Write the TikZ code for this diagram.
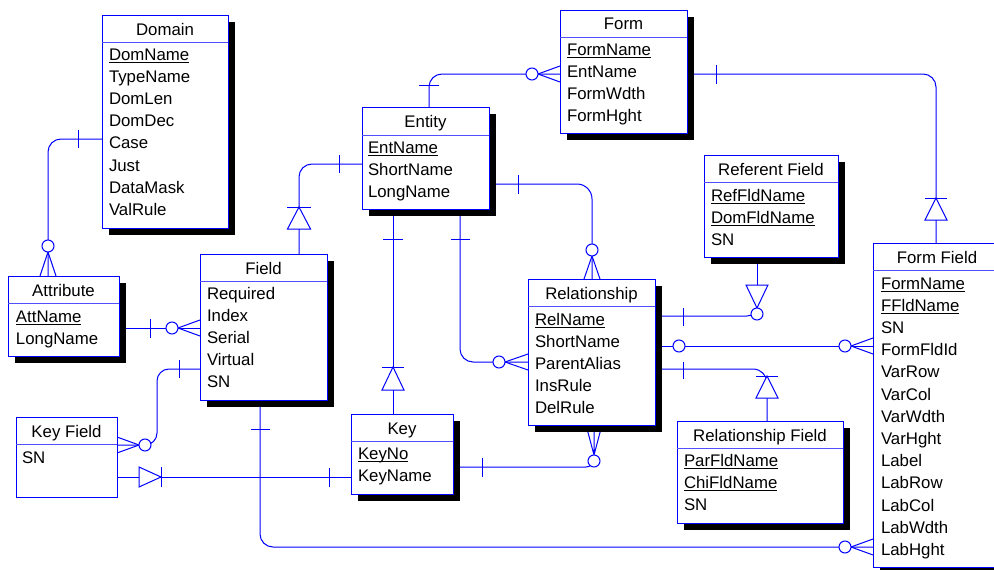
\documentclass[tikz,border=0pt]{standalone}
\usepackage{fontspec}
\setmainfont{Liberation Sans}
\definecolor{lb}{RGB}{0,0,255}
\definecolor{hb}{RGB}{80,80,255}
\pgfdeclarelayer{bgl}
\pgfdeclarelayer{conn}
\pgfsetlayers{bgl,conn,main}
\tikzset{
 rel/.style={draw=lb, line width=1pt},
 boxst/.style={draw=lb, line width=1pt, fill=white, inner sep=0pt, outer sep=0pt, rectangle},
 shad/.style={fill=black},
 hdr/.style={draw=hb, line width=1pt},
 txt/.style={font=\fontsize{16.8}{22.2}\selectfont, inner sep=0pt, outer sep=0pt, text=black},
 ocirc/.style={draw=lb, line width=1pt, fill=white},
 tri/.style={draw=lb, line width=1pt, fill=white, line join=miter},
}
\newcommand\ul[1]{\setbox0\hbox{#1}\rlap{\rule[-2.6pt]{\wd0}{0.9pt}}\box0}
\newcommand\erboxns[7]{%
 \node[boxst, minimum width={(#4-#2)*1pt}, minimum height={(#5-#3)*1pt}, anchor=north west] (#1) at (#2,#3) {};
 \draw[hdr] (#2,#6) -- (#4,#6);
 \node[txt, anchor=base] (#1-title) at ({(#2+#4)/2},{(#3+#6)/2+6.5}) {#7};}
\newcommand\erbox[7]{%
 \fill[shad] ({#2+6.5},{#3+6.5}) rectangle ({#4+6.5},{#5+6.5});
 \erboxns{#1}{#2}{#3}{#4}{#5}{#6}{#7}}
\newcommand\errows[4]{\node[txt, anchor=base west] (#1-rows) at (#2,#3) {\begin{tabular}[t]{@{}l@{}}#4\end{tabular}};}
\begin{document}
\begin{tikzpicture}[x=1pt,y=-1pt]
\path[use as bounding box] (0,0) rectangle (994,570);
\begin{pgfonlayer}{bgl}
\fill[white] (0,0) rectangle (994,570);
\end{pgfonlayer}

\erbox{domain}{102}{15}{228}{228}{42}{Domain}
\errows{domain}{109}{60}{\ul{DomName}\\TypeName\\DomLen\\DomDec\\Case\\Just\\DataMask\\ValRule}
\erbox{attribute}{8}{276}{119}{356}{303}{Attribute}
\errows{attribute}{16}{322}{\ul{AttName}\\LongName}
\erbox{field}{200}{254}{327}{400}{281}{Field}
\errows{field}{207}{299}{Required\\Index\\Serial\\Virtual\\SN}
\erboxns{keyfield}{16}{417}{117}{497}{444}{Key Field}
\errows{keyfield}{22}{463}{SN}
\erbox{entity}{362}{107}{489}{209}{135}{Entity}
\errows{entity}{368}{153}{\ul{EntName}\\ShortName\\LongName}
\erbox{form}{560}{10}{687}{133}{37}{Form}
\errows{form}{567}{55}{\ul{FormName}\\EntName\\FormWdth\\FormHght}
\erbox{referent}{704}{155}{838}{257}{182}{Referent Field}
\errows{referent}{711}{201}{\ul{RefFldName}\\\ul{DomFldName}\\SN}
\erbox{formfield}{873}{243}{1001}{567}{270}{Form Field}
\errows{formfield}{881}{289}{\ul{FormName}\\\ul{FFldName}\\SN\\FormFldId\\VarRow\\VarCol\\VarWdth\\VarHght\\Label\\LabRow\\LabCol\\LabWdth\\LabHght}
\erbox{relationship}{528}{279}{655}{425}{306}{Relationship}
\errows{relationship}{535}{325}{\ul{RelName}\\ShortName\\ParentAlias\\InsRule\\DelRule}
\erbox{key}{351}{414}{453}{494}{441}{Key}
\errows{key}{358}{459}{\ul{KeyNo}\\KeyName}
\erbox{relfield}{677}{421}{843}{523}{448}{Relationship Field}
\errows{relfield}{684}{466}{\ul{ParFldName}\\\ul{ChiFldName}\\SN}

\begin{pgfonlayer}{conn}
% Domain - Attribute
\draw[rel, rounded corners=13pt] (domain.west |- 0,139) -- (48,139) -- (attribute.north -| 48,0);
\draw[rel] (78,130) -- (78,148);
\draw[rel] (48,252) -- (attribute.north -| 40,0) (48,252) -- (attribute.north -| 56,0);
\draw[ocirc] (48,246) circle[radius=6pt];
% Entity - Field
\draw[rel, rounded corners=13pt] (entity.west |- 0,164) -- (299,164) -- (field.north -| 299,0);
\draw[rel] (339,155) -- (339,173);
\draw[tri] (299,207) -- (287.5,229) -- (310.5,229) -- cycle;
\draw[rel] (287,207) -- (311,207);
% Entity - Form
\draw[rel, rounded corners=13pt] (entity.north -| 429,0) -- (429,74) -- (form.west |- 0,74);
\draw[rel] (419,85) -- (439,85);
\draw[rel] (538,74) -- (form.west |- 0,66) (538,74) -- (form.west |- 0,82);
\draw[ocirc] (532,74) circle[radius=6pt];
% Form - Form Field
\draw[rel, rounded corners=13pt] (form.east |- 0,74) -- (936,74) -- (formfield.north -| 936,0);
\draw[rel] (716,65) -- (716,84);
\draw[tri] (936,198) -- (925,220) -- (947,220) -- cycle;
\draw[rel] (925,198) -- (947,198);
% Entity - Relationship (top)
\draw[rel, rounded corners=15pt] (entity.east |- 0,184) -- (592,184) -- (relationship.north -| 592,0);
\draw[rel] (518,175) -- (518,194);
\draw[rel] (592,256) -- (relationship.north -| 584,0) (592,256) -- (relationship.north -| 600,0);
\draw[ocirc] (592,250) circle[radius=6pt];
% Entity - Key
\draw[rel] (entity.south -| 393,0) -- (key.north -| 393,0);
\draw[rel] (383,239) -- (403,239);
\draw[tri] (393,367) -- (382,390) -- (404,390) -- cycle;
\draw[rel] (382,367) -- (404,367);
% Entity - Relationship (left)
\draw[rel, rounded corners=13pt] (entity.south -| 460,0) -- (460,362) -- (relationship.west |- 0,362);
\draw[rel] (451,239) -- (470,239);
\draw[rel] (505,362) -- (relationship.west |- 0,354) (505,362) -- (relationship.west |- 0,370);
\draw[ocirc] (499,362) circle[radius=6pt];
% Attribute - Field
\draw[rel] (attribute.east |- 0,328) -- (field.west |- 0,328);
\draw[rel] (150,319) -- (150,338);
\draw[rel] (178,328) -- (field.west |- 0,320) (178,328) -- (field.west |- 0,336);
\draw[ocirc] (172,328) circle[radius=6pt];
% Field - Key Field
\draw[rel, rounded corners=12pt] (field.west |- 0,369) -- (157,369) -- (157,445) -- (keyfield.east |- 0,445);
\draw[rel] (179,360) -- (179,378);
\draw[rel] (139,445) -- (keyfield.east |- 0,437) (139,445) -- (keyfield.east |- 0,453);
\draw[ocirc] (145,445) circle[radius=6pt];
% Key Field - Key
\draw[rel] (keyfield.east |- 0,477) -- (key.west |- 0,477);
\draw[tri] (161,477) -- (139,467) -- (139,487) -- cycle;
\draw[rel] (161,467) -- (161,487);
\draw[rel] (329,468) -- (329,487);
% Key - Relationship
\draw[rel, rounded corners=8pt] (key.east |- 0,467) -- (594,467) -- (594,455);
\draw[rel] (482,458) -- (482,477);
\draw[rel] (594,455) -- (relationship.south -| 586,0) (594,455) -- (relationship.south -| 594,0) (594,455) -- (relationship.south -| 602,0);
\draw[ocirc] (594,461) circle[radius=6pt];
% Field - Form Field
\draw[rel, rounded corners=13pt] (field.south -| 260,0) -- (260,547) -- (formfield.west |- 0,547);
\draw[rel] (251,429) -- (270,429);
\draw[rel] (851,547) -- (formfield.west |- 0,539) (851,547) -- (formfield.west |- 0,555);
\draw[ocirc] (845,547) circle[radius=6pt];
% Relationship - Referent Field
\draw[rel] (referent.south -| 757,0) -- (757,285);
\draw[rel, rounded corners=10pt] (relationship.east |- 0,316) -- (757,316) -- (757,306);
\draw[rel] (683,308) -- (683,326);
\draw[tri] (746,285) -- (768,285) -- (757,308) -- cycle;
\draw[ocirc] (757,314) circle[radius=6pt];
% Relationship - Form Field
\draw[rel] (relationship.east |- 0,346) -- (formfield.west |- 0,346);
\draw[ocirc] (679,346) circle[radius=6pt];
\draw[rel] (851,346) -- (formfield.west |- 0,338) (851,346) -- (formfield.west |- 0,354);
\draw[ocirc] (845,346) circle[radius=6pt];
% Relationship - Relationship Field
\draw[rel, rounded corners=14pt] (relationship.east |- 0,369) -- (767,369) -- (relfield.north -| 767,0);
\draw[rel] (683,362) -- (683,379);
\draw[tri] (767,376) -- (756,398) -- (778,398) -- cycle;
\draw[rel] (756,376) -- (778,376);
\end{pgfonlayer}
\end{tikzpicture}
\end{document}
